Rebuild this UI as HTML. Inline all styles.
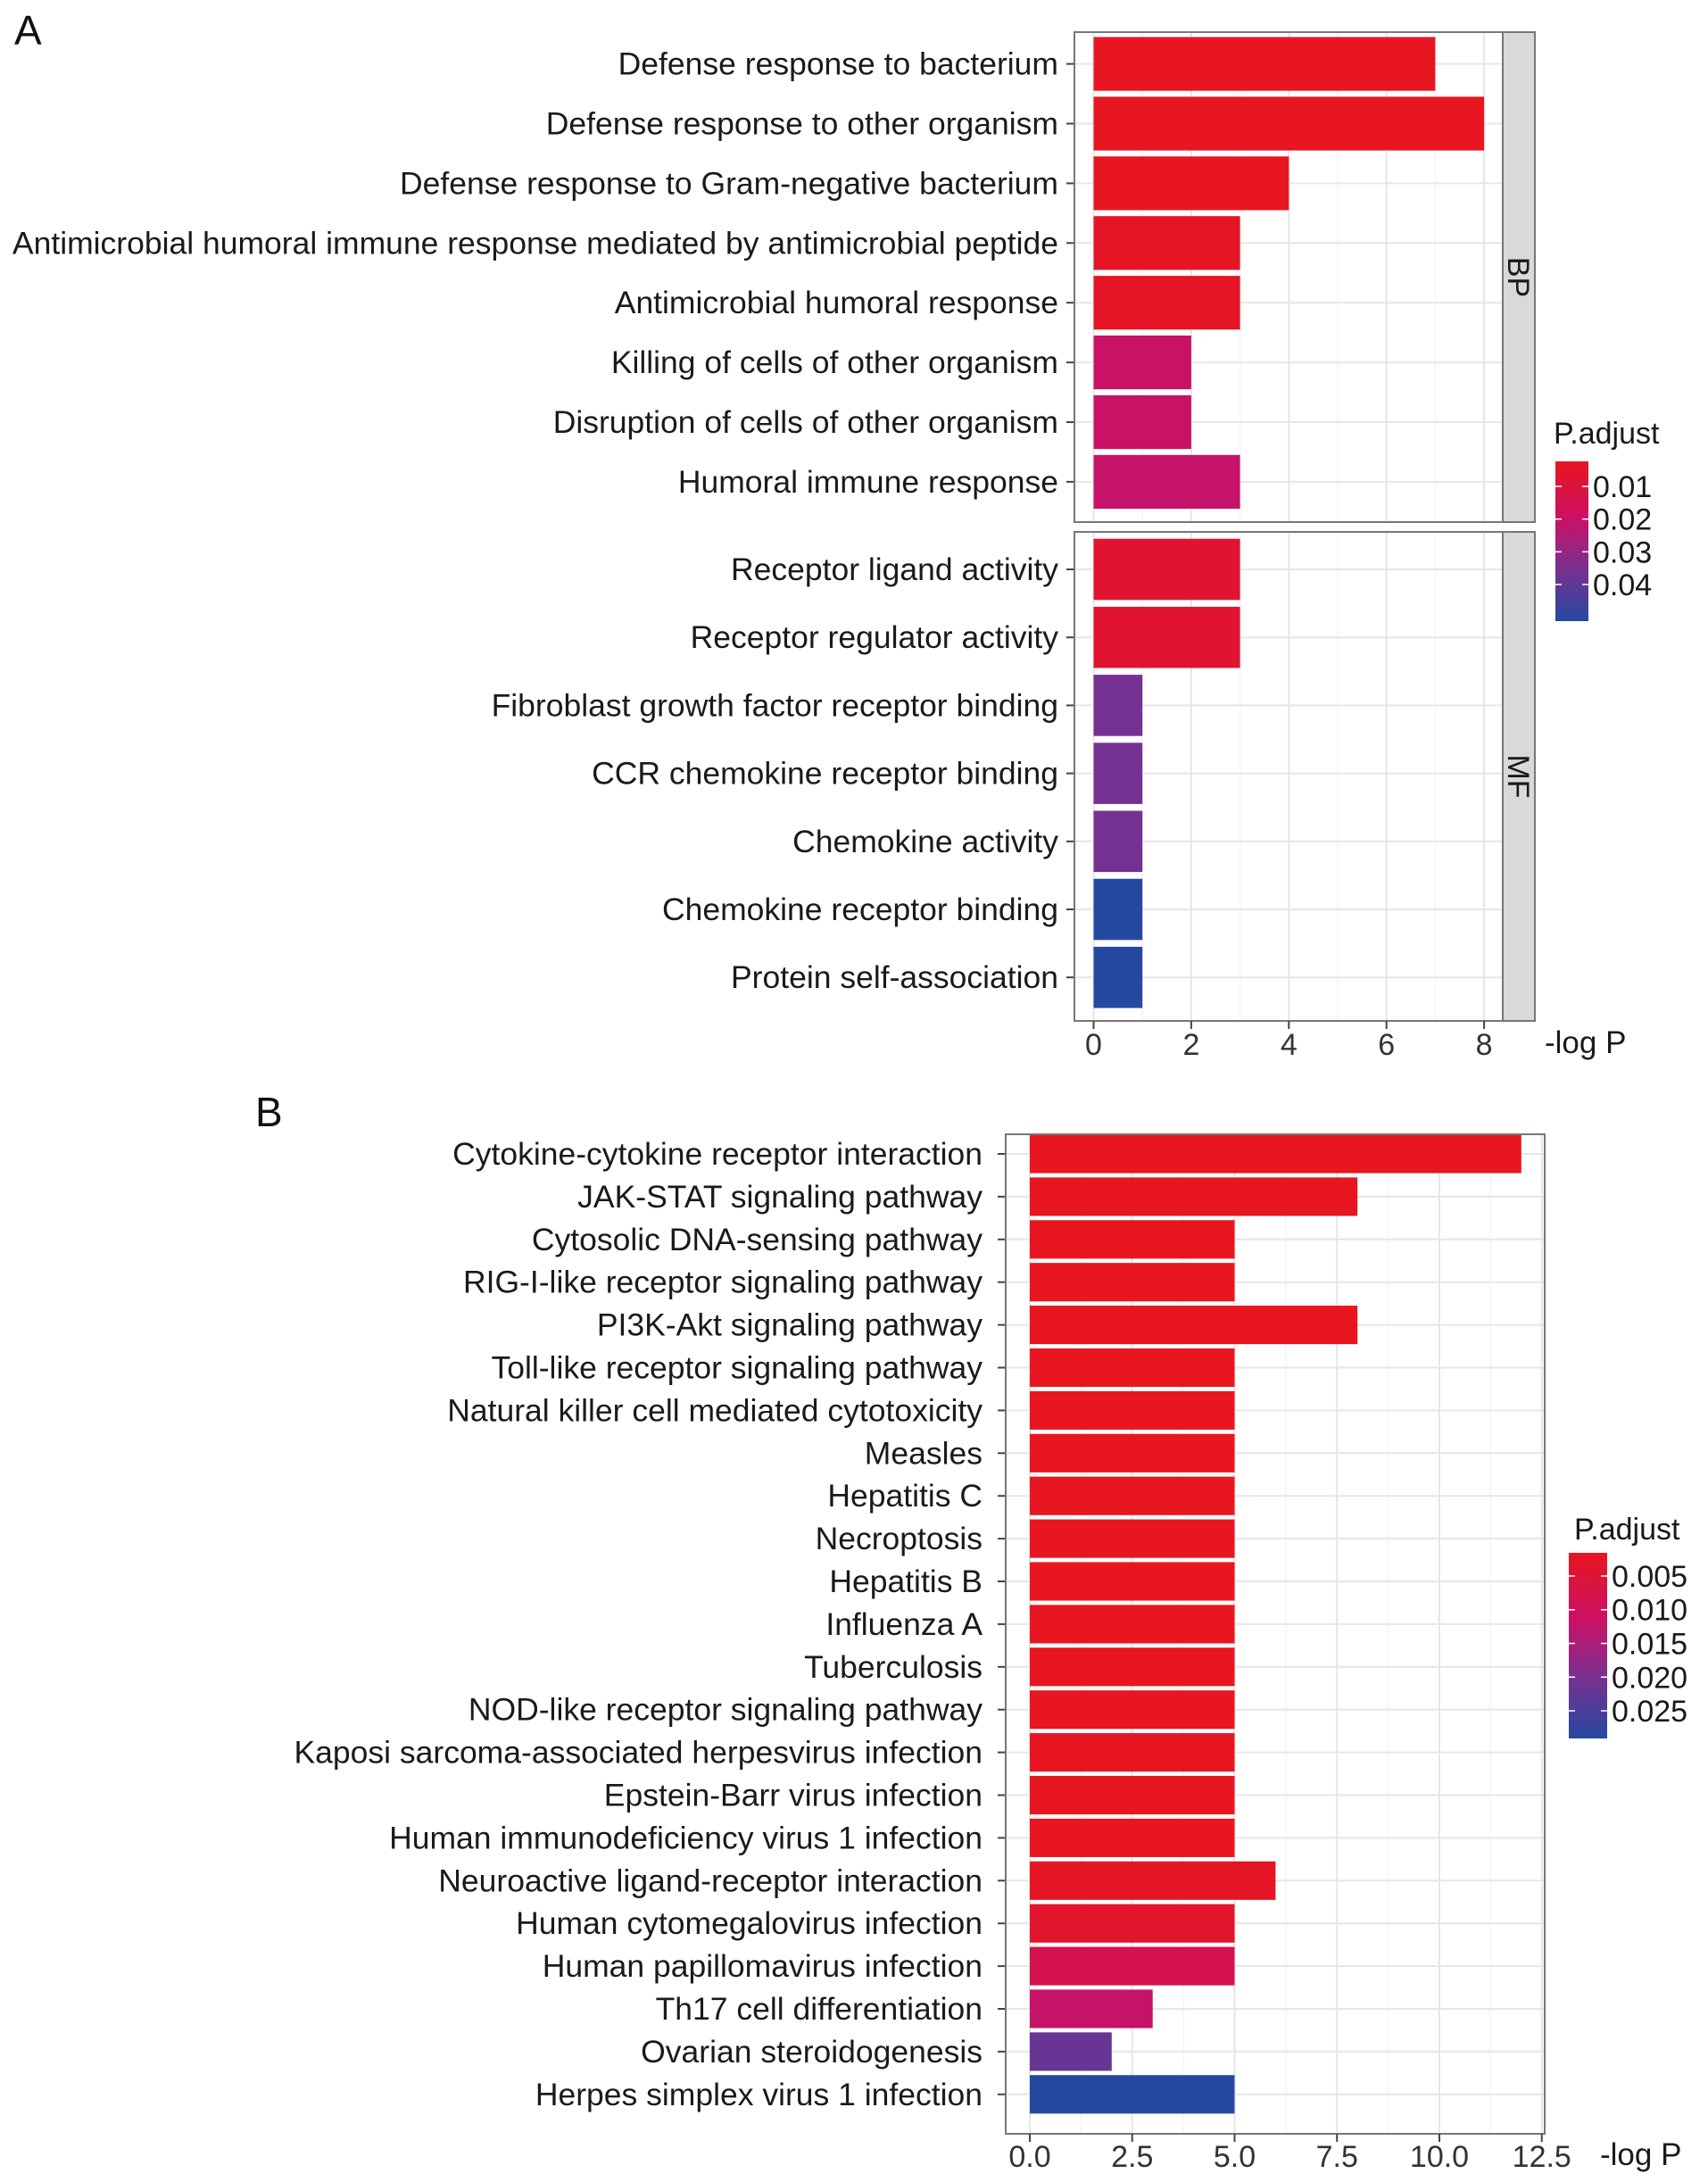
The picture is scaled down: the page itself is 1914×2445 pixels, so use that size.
<!DOCTYPE html>
<html><head><meta charset="utf-8"><style>
html,body{margin:0;padding:0;background:#fff;}
svg{display:block;font-family:"Liberation Sans",sans-serif;}
</style></head><body>
<svg id="chart" width="1914" height="2445" viewBox="0 0 1914 2445"></svg>
<script>
// Panel A data
const bpTerms=["Defense response to bacterium","Defense response to other organism","Defense response to Gram-negative bacterium","Antimicrobial humoral immune response mediated by antimicrobial peptide","Antimicrobial humoral response","Killing of cells of other organism","Disruption of cells of other organism","Humoral immune response"];
const bpValues=[7,8,4,3,3,2,2,3];
const bpPadj=[0.003,0.003,0.003,0.004,0.004,0.02,0.02,0.021];
const mfTerms=["Receptor ligand activity","Receptor regulator activity","Fibroblast growth factor receptor binding","CCR chemokine receptor binding","Chemokine activity","Chemokine receptor binding","Protein self-association"];
const mfValues=[3,3,1,1,1,1,1];
const mfPadj=[0.007,0.007,0.036,0.036,0.036,0.051,0.051];
const aTicks=[0,2,4,6,8];
const aLegendTicks=[0.01,0.02,0.03,0.04];
// Panel B data
const keggTerms=["Cytokine-cytokine receptor interaction","JAK-STAT signaling pathway","Cytosolic DNA-sensing pathway","RIG-I-like receptor signaling pathway","PI3K-Akt signaling pathway","Toll-like receptor signaling pathway","Natural killer cell mediated cytotoxicity","Measles","Hepatitis C","Necroptosis","Hepatitis B","Influenza A","Tuberculosis","NOD-like receptor signaling pathway","Kaposi sarcoma-associated herpesvirus infection","Epstein-Barr virus infection","Human immunodeficiency virus 1 infection","Neuroactive ligand-receptor interaction","Human cytomegalovirus infection","Human papillomavirus infection","Th17 cell differentiation","Ovarian steroidogenesis","Herpes simplex virus 1 infection"];
const keggValues=[12,8,5,5,8,5,5,5,5,5,5,5,5,5,5,5,5,6,5,5,3,2,5];
const keggPadj=[0.0015,0.0015,0.0016,0.0016,0.0016,0.0017,0.0017,0.0017,0.0018,0.0018,0.0018,0.0018,0.0019,0.0019,0.0019,0.002,0.002,0.0025,0.0035,0.008,0.012,0.022,0.029];
const bTicks=[0,2.5,5,7.5,10,12.5];
const bTickLabels=["0.0","2.5","5.0","7.5","10.0","12.5"];
const bLegendTicks=[0.005,0.010,0.015,0.020,0.025];
const bLegendLabels=["0.005","0.010","0.015","0.020","0.025"];

const NS="http://www.w3.org/2000/svg";
const svg=document.getElementById('chart');
function mk(tag,attrs,parent){const e=document.createElementNS(NS,tag);for(const k in attrs)e.setAttribute(k,attrs[k]);(parent||svg).appendChild(e);return e;}
const stops=[[0,[232,22,30]],[0.35,[204,16,100]],[0.67,[122,48,144]],[1,[36,73,160]]];
function grad(t){t=Math.max(0,Math.min(1,t));for(let i=1;i<stops.length;i++){if(t<=stops[i][0]){const a=stops[i-1],b=stops[i];const f=(t-a[0])/(b[0]-a[0]);const c=a[1].map((v,j)=>Math.round(v+(b[1][j]-v)*f));return `rgb(${c[0]},${c[1]},${c[2]})`;}}return 'rgb(36,73,160)';}

function panel(cfg){
  const {left,right,top,bottom,x0,ppu,terms,values,padj,firstCenter,slot,pmin,pmax,labelRight,name}=cfg;
  const xs=v=>x0+v*ppu;
  const g=mk('g',{});  
  mk('rect',{x:left,y:top,width:right-left,height:bottom-top,fill:'#fff'},g);
  for(const t of cfg.minor){mk('line',{x1:xs(t),x2:xs(t),y1:top,y2:bottom,stroke:'#f4f4f4','stroke-width':1.5},g);}
  for(const t of cfg.ticks){mk('line',{x1:xs(t),x2:xs(t),y1:top,y2:bottom,stroke:'#e6e6e6','stroke-width':2},g);}
  terms.forEach((t,i)=>{const cy=firstCenter+i*slot;mk('line',{x1:left,x2:right,y1:cy,y2:cy,stroke:'#e6e6e6','stroke-width':2},g);});
  terms.forEach((t,i)=>{
    const cy=firstCenter+i*slot,h=slot*0.9;
    const r=mk('rect',{x:xs(0),y:cy-h/2,width:xs(values[i])-xs(0),height:h,fill:grad((padj[i]-pmin)/(pmax-pmin))},g);
    
    
    mk('line',{x1:left-9,x2:left,y1:cy,y2:cy,stroke:'#444','stroke-width':2},g);
    const tx=mk('text',{x:labelRight,y:cy+12,'text-anchor':'end','font-size':cfg.fs,fill:'#1a1a1a'},g);
    tx.textContent=t;
    
    
  });
  mk('rect',{x:left,y:top,width:right-left,height:bottom-top,fill:'none',stroke:'#777','stroke-width':2},g);
  return g;
}

// Panel A
const aX0=1225.5,aPPU=54.7;
panel({left:1204,right:1684,top:36,bottom:585,x0:aX0,ppu:aPPU,terms:bpTerms,values:bpValues,padj:bpPadj,firstCenter:71.6,slot:66.9,pmin:0.00235,pmax:0.0512,labelRight:1186,name:'bp',ticks:aTicks,minor:[1,3,5,7],fs:35.5});
panel({left:1204,right:1684,top:596,bottom:1144,x0:aX0,ppu:aPPU,terms:mfTerms,values:mfValues,padj:mfPadj,firstCenter:638,slot:76.2,pmin:0.00235,pmax:0.0512,labelRight:1186,name:'mf',ticks:aTicks,minor:[1,3,5,7],fs:35.5});
[[36,585,'BP'],[596,1144,'MF']].forEach(([t,b,l])=>{
  const s=mk('rect',{x:1684,y:t,width:36,height:b-t,fill:'#d9d9d9',stroke:'#777','stroke-width':2});
  
  
  const tx=mk('text',{x:0,y:0,'font-size':34,'text-anchor':'middle',fill:'#1a1a1a',transform:`translate(1690,${(t+b)/2}) rotate(90)`});
  tx.textContent=l;
});
aTicks.forEach(t=>{mk('line',{x1:aX0+t*aPPU,x2:aX0+t*aPPU,y1:1144,y2:1153,stroke:'#444','stroke-width':2});
  const tx=mk('text',{x:aX0+t*aPPU,y:1182,'text-anchor':'middle','font-size':34,fill:'#333'});tx.textContent=t;
  
  });
let at=mk('text',{x:1731,y:1180,'font-size':35,fill:'#1a1a1a'});at.textContent='-log P';


function legend(x,y,w,h,pmin,pmax,ticks,labels,titleY,titleX,name){
  const id='g'+name;
  const d=mk('defs',{});const lg=mk('linearGradient',{id:id,x1:0,y1:0,x2:0,y2:1},d);
  for(let i=0;i<=20;i++){mk('stop',{offset:i/20,'stop-color':grad(i/20)},lg);}
  const r=mk('rect',{x:x,y:y,width:w,height:h,fill:`url(#${id})`});
  
  
  const tt=mk('text',{x:titleX,y:titleY,'font-size':34,fill:'#1a1a1a'});tt.textContent='P.adjust';
  
  
  ticks.forEach((p,i)=>{const yy=y+(p-pmin)/(pmax-pmin)*h;
    mk('line',{x1:x,x2:x+7,y1:yy,y2:yy,stroke:'#fff','stroke-width':1.5});
    mk('line',{x1:x+w-7,x2:x+w,y1:yy,y2:yy,stroke:'#fff','stroke-width':1.5});
    const tx=mk('text',{x:x+w+5,y:yy+12,'font-size':34,fill:'#1a1a1a'});tx.textContent=labels[i];});
}
legend(1743,517,37,179,0.00235,0.0512,aLegendTicks,aLegendTicks.map(String),497,1741,'a');

// Panel B
const bX0=1154,bPPU=45.9;
panel({left:1127,right:1731,top:1271,bottom:2391,x0:bX0,ppu:bPPU,terms:keggTerms,values:keggValues,padj:keggPadj,firstCenter:1293,slot:47.9,pmin:0.00156,pmax:0.0291,labelRight:1101,name:'kegg',ticks:bTicks,minor:[1.25,3.75,6.25,8.75,11.25],fs:35.5});
bTicks.forEach((t,i)=>{mk('line',{x1:bX0+t*bPPU,x2:bX0+t*bPPU,y1:2391,y2:2400,stroke:'#444','stroke-width':2});
  const tx=mk('text',{x:bX0+t*bPPU,y:2428,'text-anchor':'middle','font-size':34,fill:'#333'});tx.textContent=bTickLabels[i];
  
  });
let bt=mk('text',{x:1793,y:2426,'font-size':35,fill:'#1a1a1a'});bt.textContent='-log P';


legend(1758,1740,43,208,0.00156,0.0291,bLegendTicks,bLegendLabels,1725,1764,'b');

let la=mk('text',{x:16,y:50,'font-size':46,fill:'#111'});la.textContent='A';


let lb=mk('text',{x:286,y:1262,'font-size':46,fill:'#111'});lb.textContent='B';


</script>
</body></html>
